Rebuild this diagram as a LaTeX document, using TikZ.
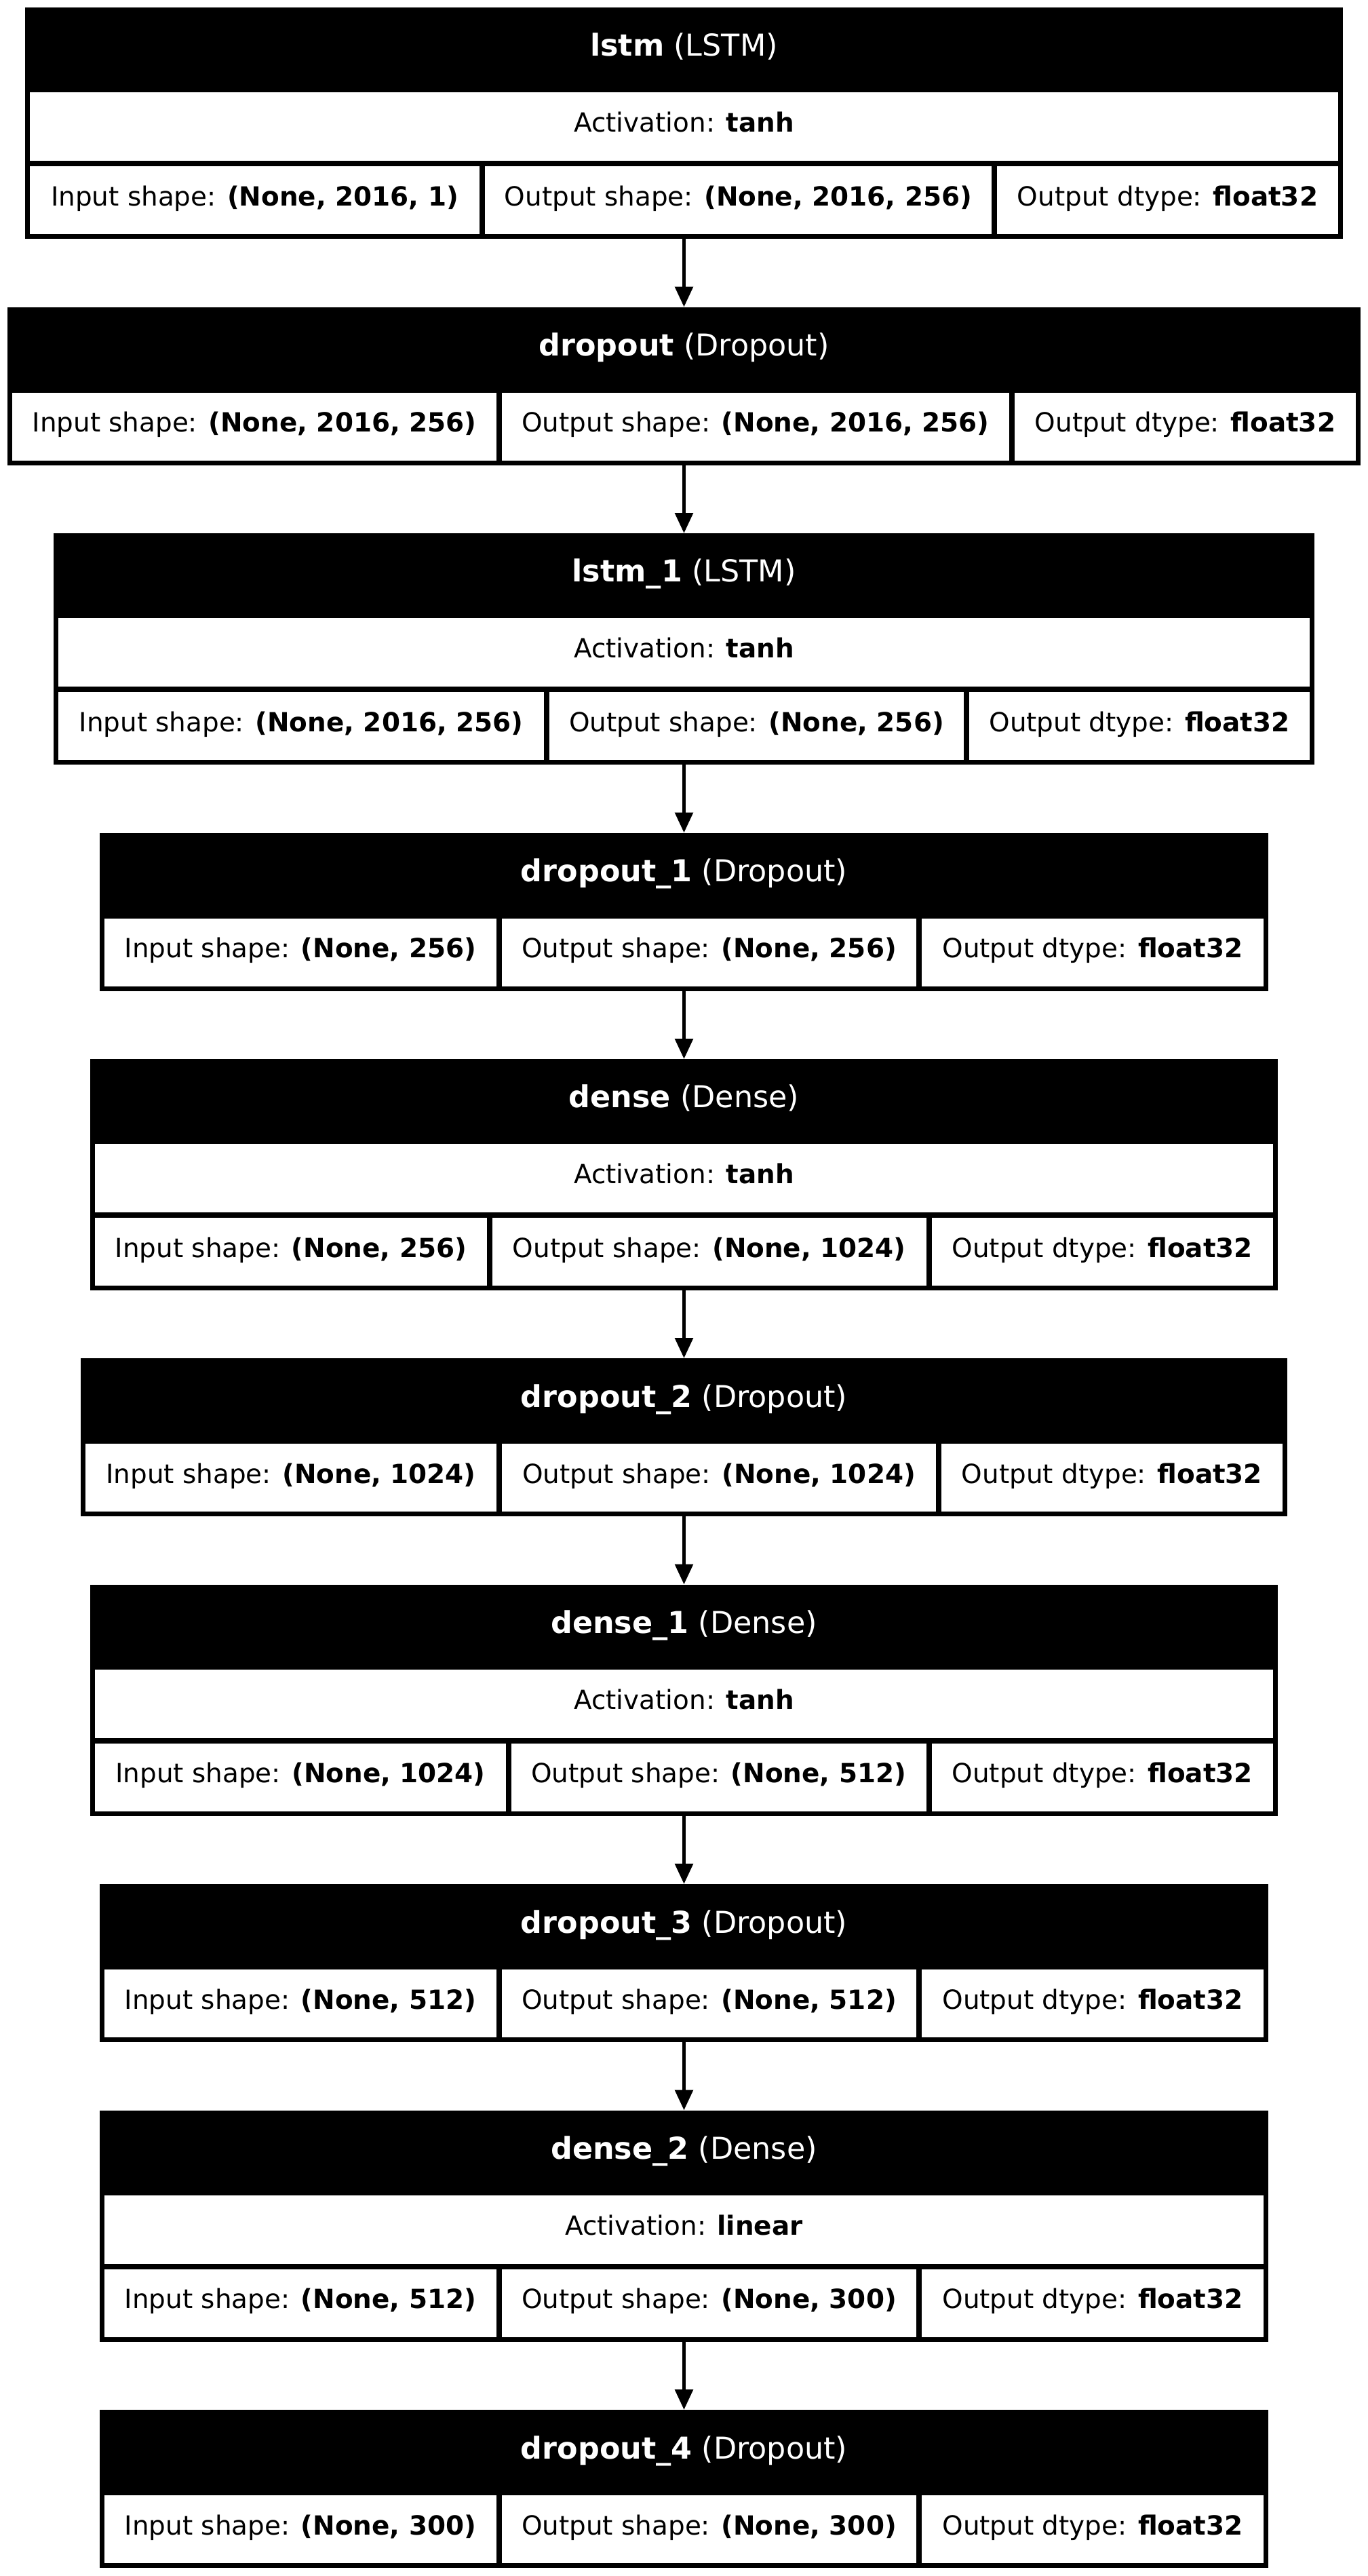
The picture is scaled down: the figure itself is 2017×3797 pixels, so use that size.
\documentclass[tikz,border=0pt]{standalone}
\usepackage{fontspec}
\setmainfont{DejaVu Sans}
\usetikzlibrary{arrows.meta}

\tikzset{
  layerbox/.style={fill=black, draw=none, inner sep=0pt, outer sep=0pt},
  cellfill/.style={fill=white},
  celltext/.style={font=\fontsize{14}{17}\selectfont, text=black, inner sep=0pt,
                   text height=9.8pt, text depth=3.92pt},
  headtext/.style={font=\fontsize{16}{19}\selectfont, text=white, inner sep=0pt,
                   text height=11.2pt, text depth=4.48pt},
  flow/.style={line width=2pt, -{Triangle[length=10.8pt, width=9.4pt]}},
}

% geometry of the current layer box: left, right, first divider, second divider, top
\newcommand{\boxgeom}[5]{\def\bxL{#1}\def\bxR{#2}\def\bxA{#3}\def\bxB{#4}\def\bxT{#5}}

% the row of three cells: name, top, bottom, input shape, output shape
\newcommand{\shapecells}[5]{%
  \fill[cellfill] ({\bxL+7},{#2}) rectangle ({\bxA-4},{#3});
  \fill[cellfill] ({\bxA+4},{#2}) rectangle ({\bxB-4},{#3});
  \fill[cellfill] ({\bxB+4},{#2}) rectangle ({\bxR-7},{#3});
  \node[celltext] (#1-in)    at ({(\bxL+\bxA+3)/2},{(#2+#3)/2}) {Input shape: \textbf{#4}};
  \node[celltext] (#1-out)   at ({(\bxA+\bxB)/2},{(#2+#3)/2}) {Output shape: \textbf{#5}};
  \node[celltext] (#1-dtype) at ({(\bxB+\bxR-3)/2},{(#2+#3)/2}) {Output dtype: \textbf{float32}};
}

% layer with an activation row: name, layer name, class, activation, input, output
\newcommand{\actlayer}[6]{%
  \node[layerbox, minimum width={(\bxR-\bxL)*0.36pt}, minimum height={341*0.36pt}]
    (#1) at ({(\bxL+\bxR)/2},{\bxT+170.5}) {};
  \node[headtext] (#1-title) at ({(\bxL+\bxR)/2},{\bxT+62.5}) {\textbf{#2} (#3)};
  \fill[cellfill] ({\bxL+7},{\bxT+125}) rectangle ({\bxR-7},{\bxT+226});
  \node[celltext] (#1-act) at ({(\bxL+\bxR)/2},{\bxT+175.5}) {Activation: \textbf{#4}};
  \shapecells{#1}{\bxT+234}{\bxT+334}{#5}{#6}
}

% layer without an activation row: name, layer name, class, input, output
\newcommand{\plainlayer}[5]{%
  \node[layerbox, minimum width={(\bxR-\bxL)*0.36pt}, minimum height={233*0.36pt}]
    (#1) at ({(\bxL+\bxR)/2},{\bxT+116.5}) {};
  \node[headtext] (#1-title) at ({(\bxL+\bxR)/2},{\bxT+63}) {\textbf{#2} (#3)};
  \shapecells{#1}{\bxT+126}{\bxT+226}{#4}{#5}
}

\begin{document}
\begin{tikzpicture}[x=0.36pt, y=-0.36pt]
  \fill[white] (0,0) rectangle (2017,3797);
  \useasboundingbox (0,0) rectangle (2017,3797);

  \boxgeom{37}{1980}{711}{1466}{11}
  \actlayer{lstm}{lstm}{LSTM}{tanh}{(None, 2016, 1)}{(None, 2016, 256)}

  \boxgeom{11}{2006}{736}{1492}{452.5}
  \plainlayer{drop}{dropout}{Dropout}{(None, 2016, 256)}{(None, 2016, 256)}

  \boxgeom{79}{1938}{806}{1425}{786}
  \actlayer{lstmone}{lstm\_1}{LSTM}{tanh}{(None, 2016, 256)}{(None, 256)}

  \boxgeom{147}{1870}{736}{1355}{1227.5}
  \plainlayer{dropone}{dropout\_1}{Dropout}{(None, 256)}{(None, 256)}

  \boxgeom{133}{1884}{722}{1369.5}{1561}
  \actlayer{dense}{dense}{Dense}{tanh}{(None, 256)}{(None, 1024)}

  \boxgeom{119}{1898}{736}{1384}{2002}
  \plainlayer{droptwo}{dropout\_2}{Dropout}{(None, 1024)}{(None, 1024)}

  \boxgeom{133}{1884}{750}{1369.5}{2335.5}
  \actlayer{denseone}{dense\_1}{Dense}{tanh}{(None, 1024)}{(None, 512)}

  \boxgeom{147}{1870}{736}{1355}{2777}
  \plainlayer{dropthree}{dropout\_3}{Dropout}{(None, 512)}{(None, 512)}

  \boxgeom{147}{1870}{736}{1355}{3110.5}
  \actlayer{densetwo}{dense\_2}{Dense}{linear}{(None, 512)}{(None, 300)}

  \boxgeom{147}{1870}{736}{1355}{3552}
  \plainlayer{dropfour}{dropout\_4}{Dropout}{(None, 300)}{(None, 300)}

  % data flow between consecutive layers
  \draw[flow] (lstm.south) -- (drop.north);
  \draw[flow] (drop.south) -- (lstmone.north);
  \draw[flow] (lstmone.south) -- (dropone.north);
  \draw[flow] (dropone.south) -- (dense.north);
  \draw[flow] (dense.south) -- (droptwo.north);
  \draw[flow] (droptwo.south) -- (denseone.north);
  \draw[flow] (denseone.south) -- (dropthree.north);
  \draw[flow] (dropthree.south) -- (densetwo.north);
  \draw[flow] (densetwo.south) -- (dropfour.north);
\end{tikzpicture}
\end{document}
